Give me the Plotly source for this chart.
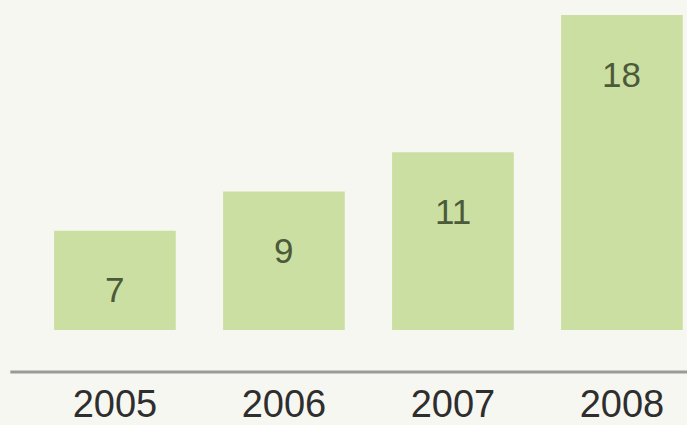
import plotly.graph_objects as go

years = ["2005", "2006", "2007", "2008"]
values = [7, 9, 11, 18]

fig = go.Figure()
fig.add_trace(go.Bar(
    x=years, y=values,
    width=0.72,
    marker=dict(color="#cbdfa2", line=dict(width=0)),
    hoverinfo="skip",
))

for i, v in enumerate(values):
    fig.add_annotation(
        x=i, y=v, xref="x", yref="y", yshift=-59, text=str(v), showarrow=False,
        font=dict(family="Liberation Sans", size=35, color="#4b5a39"),
        yanchor="middle", xanchor="center",
    )

fig.add_shape(type="line", xref="paper", yref="paper",
              x0=0.015, x1=1.0, y0=-0.127, y1=-0.127,
              line=dict(color="#9a9a96", width=3))

fig.update_layout(
    width=687, height=425,
    margin=dict(l=0, r=0, t=0, b=95),
    paper_bgcolor="#f7f7f2",
    plot_bgcolor="#f7f7f2",
    showlegend=False,
    xaxis=dict(
        type="category",
        range=[-0.68, 3.385],
        autorange=False,
        automargin=False,
        showgrid=False, zeroline=False, showline=False,
        ticks="",
        tickfont=dict(family="Liberation Sans", size=38, color="#2e2e2e"),
        ticklabelstandoff=48,
    ),
    yaxis=dict(
        range=[1.93, 18.77],
        autorange=False,
        automargin=False,
        showgrid=False, zeroline=False, showline=False,
        showticklabels=False, ticks="",
    ),
)

fig.write_html("out.html",
               config={"displayModeBar": False},
               post_script="document.body.style.margin='0';document.body.style.padding='0';document.body.style.background='#f7f7f2';")
